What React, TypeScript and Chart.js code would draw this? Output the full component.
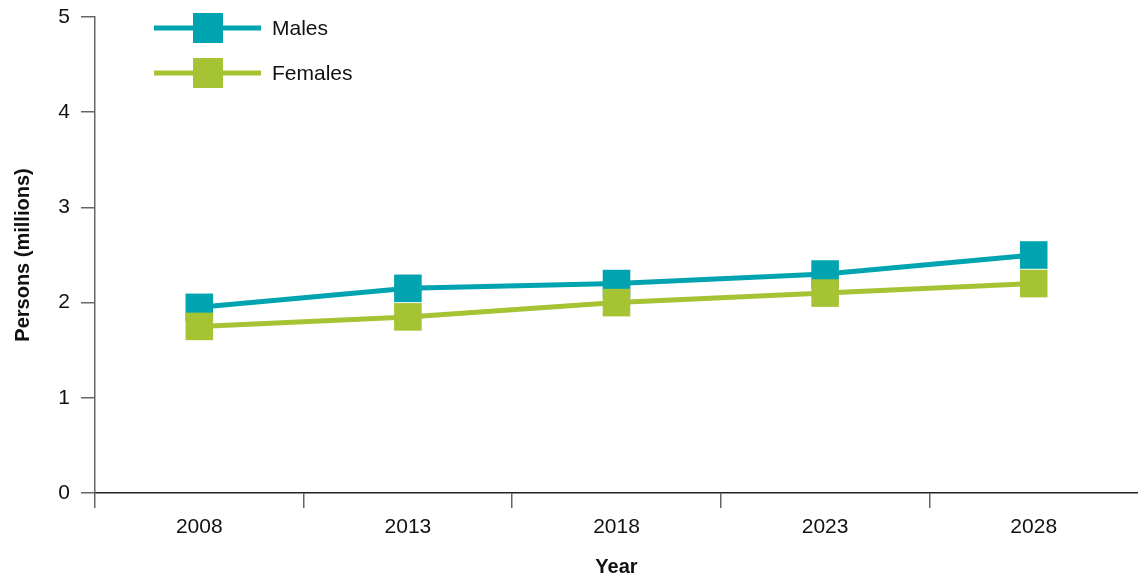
import React, { useEffect, useRef } from "react";
import { Chart, registerables } from "chart.js";

Chart.register(...registerables);

const years = ["2008", "2013", "2018", "2023", "2028"];
const males = [1.95, 2.15, 2.2, 2.3, 2.5];
const females = [1.75, 1.85, 2.0, 2.1, 2.2];
const seriesNames = ["Males", "Females"];
const seriesColors = ["#00A3B0", "#A6C334"];
const seriesOrder = [1, 0];

const FONT = "'Liberation Sans', Arial, Helvetica, sans-serif";

const legendPlugin = {
  id: "customLegend",
  afterDraw(chart: any) {
    const ctx = chart.ctx;
    ctx.save();
    chart.data.datasets.forEach((ds: any, i: number) => {
      const y = 28 + i * 45;
      ctx.strokeStyle = ds.borderColor;
      ctx.lineWidth = 5;
      ctx.beginPath();
      ctx.moveTo(154, y);
      ctx.lineTo(261, y);
      ctx.stroke();
      ctx.fillStyle = ds.backgroundColor;
      ctx.fillRect(193, y - 15, 30, 30);
      ctx.fillStyle = "#111";
      ctx.font = `21px ${FONT}`;
      ctx.textAlign = "left";
      ctx.textBaseline = "middle";
      ctx.fillText(ds.label, 272, y + 1);
    });
    ctx.restore();
  },
};

export default function App() {
  const ref = useRef<HTMLCanvasElement>(null);
  useEffect(() => {
    document.body.style.margin = "0";
    const chart = new Chart(ref.current!, {
      type: "line",
      data: {
        labels: years,
        datasets: [males, females].map((d, i) => ({
          label: seriesNames[i],
          data: d,
          order: seriesOrder[i],
          borderColor: seriesColors[i],
          backgroundColor: seriesColors[i],
          borderWidth: 5,
          pointStyle: "rect",
          pointRadius: 19.5,
          pointBorderWidth: 0,
          pointHoverRadius: 19.5,
          tension: 0,
          clip: false,
        })),
      },
      options: {
        responsive: false,
        animation: false,
        layout: { autoPadding: false, padding: { top: 17, right: 0, left: 0, bottom: 0 } },
        plugins: { legend: { display: false }, tooltip: { enabled: false } },
        scales: {
          x: {
            type: "category",
            offset: true,
            afterFit: (s: any) => {
              s.height = 84;
              s.paddingLeft = 0;
              s.paddingRight = 0;
            },
            grid: {
              offset: true,
              drawOnChartArea: false,
              drawTicks: true,
              tickLength: 15,
              color: (c: any) => (c.type === "tick" ? "#666" : "rgba(0,0,0,0)"),
              lineWidth: 1.5,
            },
            border: { color: "#222", width: 1.5 },
            ticks: { color: "#111", font: { family: FONT, size: 21 }, padding: 7 },
            title: {
              display: true,
              text: "Year",
              color: "#111",
              font: { family: FONT, size: 20, weight: "bold", lineHeight: 1 },
              padding: { top: 0, bottom: 0 },
            },
          },
          y: {
            min: 0,
            max: 5,
            afterFit: (s: any) => {
              s.width = 95;
              s.paddingTop = 0;
              s.paddingBottom = 0;
            },
            grid: {
              drawOnChartArea: false,
              drawTicks: true,
              tickLength: 14,
              color: "#666",
              lineWidth: 1.5,
            },
            border: { color: "#666", width: 1.5 },
            ticks: {
              stepSize: 1,
              color: "#111",
              font: { family: FONT, size: 21 },
              padding: 11,
            },
            title: {
              display: true,
              text: "Persons (millions)",
              color: "#111",
              font: { family: FONT, size: 20, weight: "bold", lineHeight: 1.2 },
              padding: { top: 11, bottom: 0 },
            },
          },
        },
      },
      plugins: [legendPlugin],
    } as any);
    return () => chart.destroy();
  }, []);
  return (
    <div style={{ width: 1138, height: 577 }}>
      <canvas ref={ref} width={1138} height={577} />
    </div>
  );
}
